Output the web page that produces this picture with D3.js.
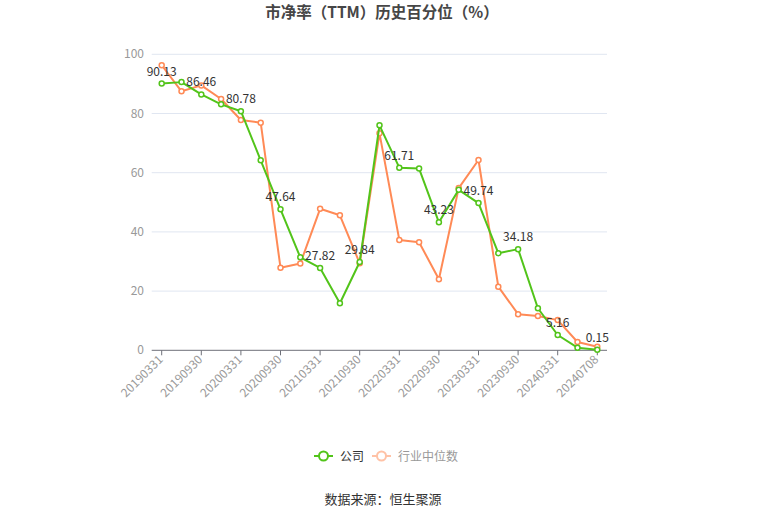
<!DOCTYPE html>
<html><head><meta charset="utf-8">
<script src="https://cdn.jsdelivr.net/npm/d3@7"></script>
<style>body{margin:0;background:#fff;}svg{display:block;font-family:"Noto Sans CJK SC","Noto Sans",sans-serif;}</style>
</head><body><svg id="c" width="765" height="517"></svg>
<script>
const categories = ["20190331","20190630","20190930","20191231","20200331","20200630","20200930","20201231","20210331","20210630","20210930","20211231","20220331","20220630","20220930","20221231","20230331","20230630","20230930","20231231","20240331","20240630","20240708"];
const company = [90.13,90.6,86.46,83.1,80.78,64.2,47.64,31.4,27.82,15.9,29.84,76.0,61.71,61.4,43.23,54.2,49.74,32.8,34.18,14.2,5.16,0.9,0.15];
const industry = [96.3,87.5,89.5,84.9,77.8,76.9,27.9,29.3,47.8,45.6,29.4,73.3,37.3,36.5,24.0,54.8,64.3,21.5,12.2,11.6,10.2,2.8,1.2];
const yTicks = [0,20,40,60,80,100];
const seriesNames = ["公司","行业中位数"];

const svg = d3.select("#c");
const green = "#52c41a", orange = "#ff8a56";
const x = d3.scalePoint().domain(categories).range([161.7, 597.3]);
const y = d3.scaleLinear().domain([0,100]).range([350.3, 54.3]);
const axL = 151.7, axR = 607;

// title
svg.append("text").attr("x",382).attr("y",18).attr("text-anchor","middle")
  .attr("font-size",15.5).attr("font-weight","bold").attr("fill","#464646").text("市净率（TTM）历史百分位（%）");

// grid
const g = svg.append("g");
g.selectAll("line.grid").data(yTicks.filter(d=>d>0)).enter().append("line")
  .attr("x1",axL).attr("x2",axR).attr("y1",d=>y(d)).attr("y2",d=>y(d))
  .attr("stroke","#E0E6F1").attr("stroke-width",1);
g.selectAll("text.yl").data(yTicks).enter().append("text")
  .attr("x",144).attr("y",d=>y(d)+4).attr("text-anchor","end")
  .attr("font-size",12).attr("fill","#999").text(d=>d);

// x axis
g.append("line").attr("x1",axL).attr("x2",axR).attr("y1",y(0)).attr("y2",y(0)).attr("stroke","#6E7079");
const labelCats = categories.filter((d,i)=>i%2===0);
g.selectAll("line.tk").data(labelCats).enter().append("line")
  .attr("x1",d=>x(d)).attr("x2",d=>x(d)).attr("y1",y(0)).attr("y2",y(0)+5).attr("stroke","#6E7079");
g.selectAll("text.xl").data(labelCats).enter().append("text")
  .attr("transform",d=>`translate(${x(d)+2},${y(0)+10}) rotate(-45)`)
  .attr("text-anchor","end").attr("font-size",12).attr("fill","#999").text(d=>d);

function drawSeries(vals, color){
  const line = d3.line().x((d,i)=>x(categories[i])).y(d=>y(d));
  svg.append("path").datum(vals).attr("d",line).attr("fill","none").attr("stroke",color).attr("stroke-width",2).attr("stroke-linejoin","round");
  svg.selectAll(null).data(vals).enter().append("circle")
    .attr("cx",(d,i)=>x(categories[i])).attr("cy",d=>y(d)).attr("r",2.5)
    .attr("fill","#fff").attr("stroke",color).attr("stroke-width",1.5);
}
drawSeries(industry, orange);
drawSeries(company, green);

// labels on company every other point
svg.selectAll("text.dl").data(company.map((v,i)=>({v,i})).filter(d=>d.i%2===0)).enter().append("text")
  .attr("x",d=>x(categories[d.i])).attr("y",d=>y(d.v)-8).attr("text-anchor","middle")
  .attr("font-size",12).attr("fill","#333").text(d=>d.v.toFixed(2));

// legend
const lg = svg.append("g");
const lgY = 456;
lg.append("line").attr("x1",314).attr("x2",333).attr("y1",lgY).attr("y2",lgY).attr("stroke",green).attr("stroke-width",2);
lg.append("circle").attr("cx",323.5).attr("cy",lgY).attr("r",4.5).attr("fill","#fff").attr("stroke",green).attr("stroke-width",2);
lg.append("text").attr("x",340).attr("y",lgY+4.5).attr("font-size",12).attr("fill","#333").text(seriesNames[0]);
lg.append("line").attr("x1",372).attr("x2",391).attr("y1",lgY).attr("y2",lgY).attr("stroke","#ffc2a6").attr("stroke-width",2);
lg.append("circle").attr("cx",381.5).attr("cy",lgY).attr("r",4.5).attr("fill","#fff").attr("stroke","#ffc2a6").attr("stroke-width",2);
lg.append("text").attr("x",398).attr("y",lgY+4.5).attr("font-size",12).attr("fill","#999").text(seriesNames[1]);

// source
svg.append("text").attr("x",383).attr("y",504).attr("text-anchor","middle").attr("font-size",13).attr("fill","#333").text("数据来源：恒生聚源");
</script></body></html>
